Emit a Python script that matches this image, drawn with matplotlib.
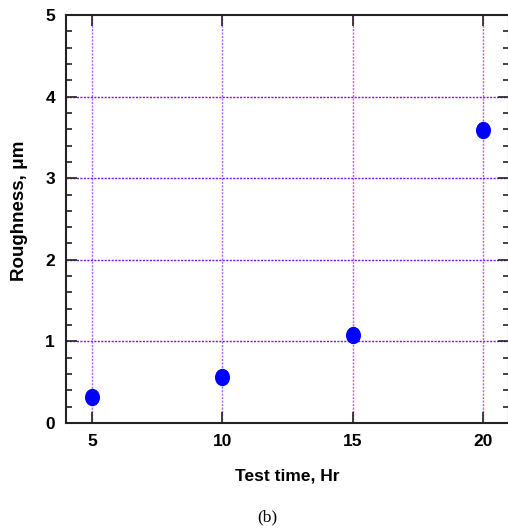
import matplotlib
matplotlib.use("Agg")
import matplotlib.pyplot as plt
from matplotlib.path import Path
from matplotlib.transforms import Affine2D
from matplotlib.ticker import MultipleLocator

# data
test_time = [5, 10, 15, 20]
roughness = [0.32, 0.56, 1.08, 3.59]
x_ticks = [5, 10, 15, 20]
y_ticks = [0, 1, 2, 3, 4, 5]

plt.rcParams['font.family'] = ['Liberation Sans', 'DejaVu Sans']

fig = plt.figure(figsize=(5.08, 5.32), dpi=100)
ax = fig.add_axes([66 / 508, 109 / 532, 443 / 508, 408 / 532])

# slightly taller than wide ellipse marker
ellipse = Path.unit_circle().transformed(Affine2D().scale(0.85, 1.0))
ax.plot(test_time, roughness, linestyle='none', marker=ellipse,
        markersize=11.5, color='#0000ff', zorder=3)

ax.set_xlim(4, 21)
ax.set_ylim(0, 5)
ax.set_xticks(x_ticks)
ax.set_yticks(y_ticks)
ax.yaxis.set_minor_locator(MultipleLocator(0.2))

# grid: dotted purple
for x in x_ticks:
    ax.axvline(x, color='#b060ff', linestyle=(0, (1.5, 1)), linewidth=1.0, zorder=1)
for y in y_ticks[1:-1]:
    ax.axhline(y, color='#7a10f0', linestyle=(0, (1.5, 1)), linewidth=1.0, zorder=1)

ax.tick_params(which='both', direction='in', top=True, right=True,
               width=1.2, color='#222222')
ax.tick_params(which='major', length=8, labelsize=12.5, pad=8)
ax.tick_params(which='minor', length=4)
for lbl in ax.get_xticklabels() + ax.get_yticklabels():
    lbl.set_fontweight('bold')

for sp in ax.spines.values():
    sp.set_linewidth(1.5)
    sp.set_color('#222222')

ax.set_xlabel('Test time, Hr', fontsize=12.5, fontweight='bold', labelpad=14)
ax.set_ylabel('Roughness, \u03bcm', fontsize=13.5, fontweight='bold')
ax.yaxis.set_label_coords(-0.085, 0.52)

fig.text(267 / 508, 1 - 517 / 532, '(b)', ha='center', va='center',
         fontsize=12.5, family=['Liberation Serif', 'DejaVu Serif'])

fig.savefig('out.png', dpi=100)
